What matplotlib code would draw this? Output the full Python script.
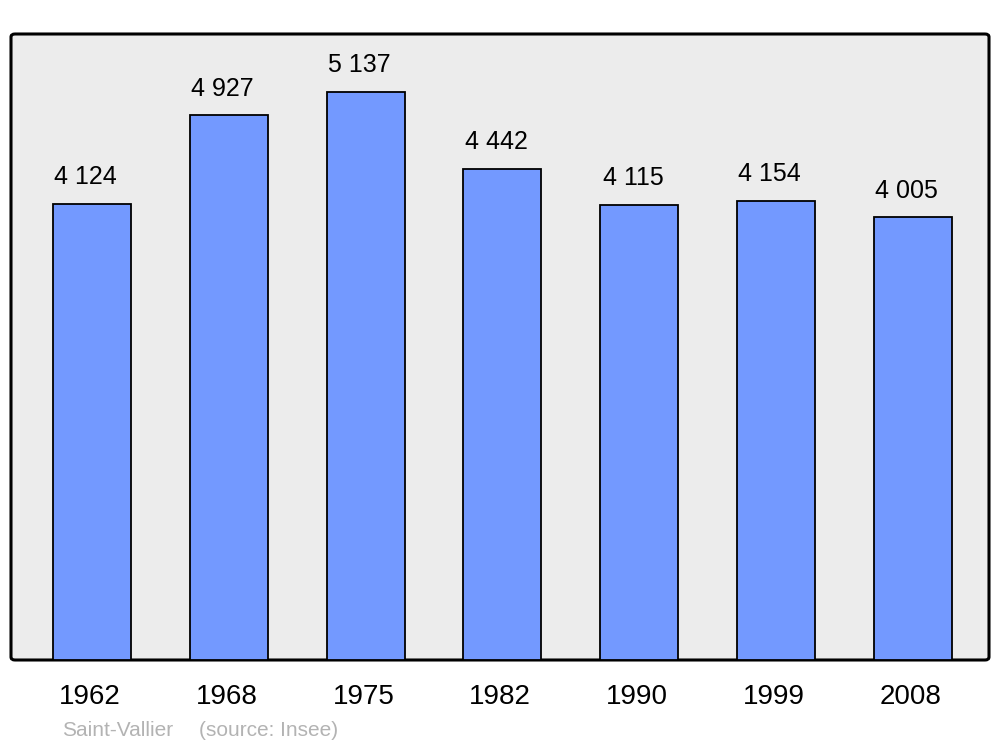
import matplotlib
matplotlib.use('Agg')
import matplotlib.pyplot as plt
from matplotlib.patches import FancyBboxPatch

years = ['1962', '1968', '1975', '1982', '1990', '1999', '2008']
population = [4124, 4927, 5137, 4442, 4115, 4154, 4005]
value_labels = ['4 124', '4 927', '5 137', '4 442', '4 115', '4 154', '4 005']
town = 'Saint-Vallier'
source = '(source: Insee)'

plt.rcParams['font.family'] = ['Liberation Sans', 'DejaVu Sans']

W, H = 1000, 747
fig = plt.figure(figsize=(W / 100, H / 100), dpi=100)

# rounded grey frame behind the plot
frame = FancyBboxPatch((11 / W, 1 - 660 / H), 978 / W, 626 / H,
                       boxstyle='round,pad=0,rounding_size=0.004',
                       transform=fig.transFigure, facecolor='#ececec',
                       edgecolor='black', linewidth=2.2, zorder=-1)
fig.patches.append(frame)

ax = fig.add_axes([11 / W, 1 - 660 / H, 978 / W, 626 / H])
ax.set_facecolor('none')
for s in ax.spines.values():
    s.set_visible(False)

x = list(range(len(years)))
ax.bar(x, population, width=0.57, color='#7399ff', edgecolor='black',
       linewidth=1.3, zorder=2)
ax.set_xlim(-0.592, 6.557)
ax.set_ylim(0, 5661)
ax.set_xticks([])
ax.set_yticks([])

for xi, v, lab in zip(x, population, value_labels):
    ax.annotate(lab, (xi, v), xytext=(-4.5, 10.5), textcoords='offset points',
                ha='center', va='bottom', fontsize=18, color='black')
    ax.annotate(years[xi], (xi, 0), xytext=(-1.5, -26.5), textcoords='offset points',
                ha='center', va='center', fontsize=20, color='black',
                annotation_clip=False)

fig.text(62 / W, 1 - 730 / H, town, fontsize=15, color='#b3b3b3', va='center')
fig.text(199 / W, 1 - 730 / H, source, fontsize=15, color='#b3b3b3', va='center')

fig.savefig('out.png', dpi=100)
